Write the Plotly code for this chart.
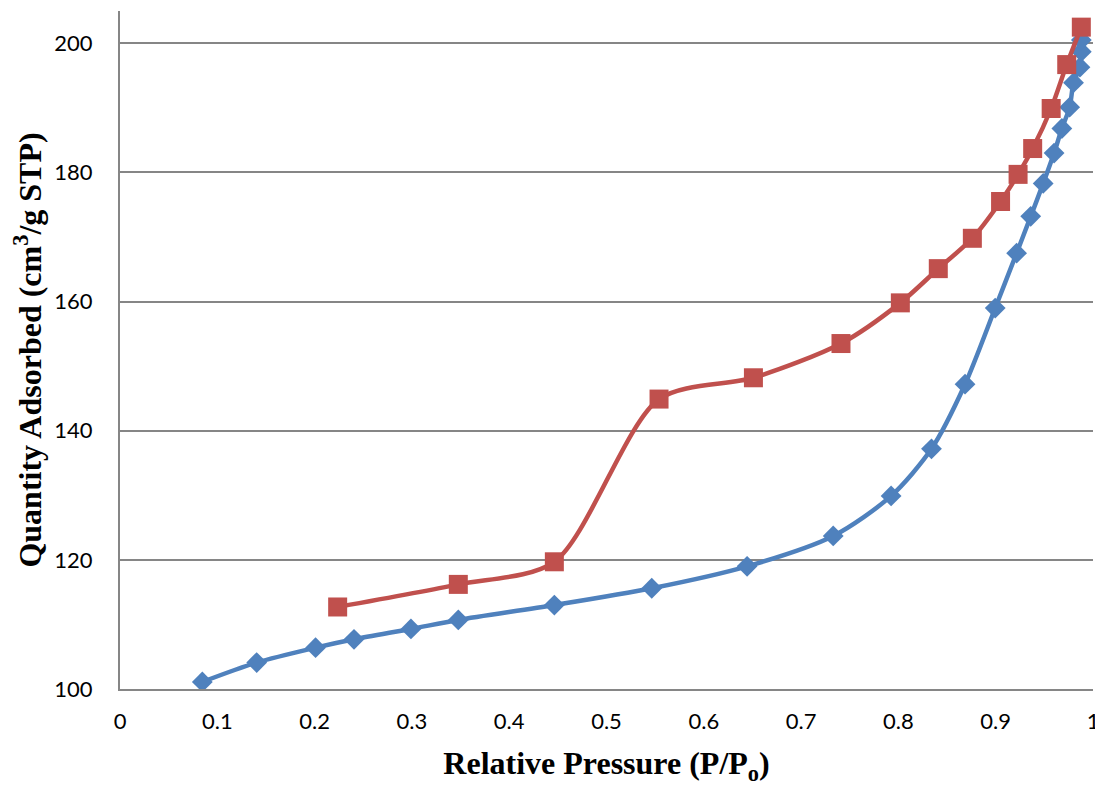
import plotly.graph_objects as go

ads_x = [0.0846, 0.1405, 0.201, 0.2405, 0.299, 0.3477, 0.4464, 0.5465, 0.6445, 0.733,
         0.7925, 0.834, 0.8685, 0.8995, 0.9215, 0.936, 0.9488, 0.960, 0.968, 0.976,
         0.980, 0.9866, 0.988, 0.988]
ads_y = [101.1, 104.1, 106.4, 107.7, 109.3, 110.7, 113.0, 115.6, 119.0, 123.7,
         129.9, 137.2, 147.2, 159.0, 167.5, 173.2, 178.3, 183.0, 186.8, 190.1,
         193.9, 196.3, 198.7, 200.5]

des_x = [0.2237, 0.3477, 0.4464, 0.554, 0.651, 0.741, 0.802, 0.841, 0.876, 0.905,
         0.923, 0.938, 0.957, 0.973, 0.988]
des_y = [112.7, 116.2, 119.7, 144.9, 148.2, 153.5, 159.8, 165.1, 169.8, 175.5,
         179.7, 183.7, 189.9, 196.7, 202.5]

BLUE = "#4F81BD"
RED = "#C0504D"
GRID = "#868686"

fig = go.Figure()
fig.add_trace(go.Scatter(
    x=ads_x, y=ads_y, mode="lines+markers", name="Adsorption",
    line=dict(color=BLUE, width=4.5, shape="spline", smoothing=0.8),
    marker=dict(symbol="diamond", size=16, color=BLUE),
))
fig.add_trace(go.Scatter(
    x=des_x, y=des_y, mode="lines+markers", name="Desorption",
    line=dict(color=RED, width=4.5, shape="spline", smoothing=0.8),
    marker=dict(symbol="square", size=19, color=RED),
))

# page body has an 8px default margin; compensate so the plot area matches
fig.update_layout(
    width=1095, height=778,
    margin=dict(l=112, r=10, t=3, b=97),
    paper_bgcolor="white", plot_bgcolor="white",
    showlegend=False,
    font=dict(family="Lato", size=22, color="black"),
)
fig.update_xaxes(
    range=[0, 1], dtick=0.1, tick0=0, showgrid=False, zeroline=False,
    showline=True, linecolor=GRID, linewidth=2,
    ticks="", ticklabelstandoff=12,
    tickfont=dict(family="Lato", size=22, color="black"),
    title=dict(text="<b>Relative Pressure (P/P<sub>o</sub>)</b>",
               font=dict(family="Liberation Serif", size=32, color="black"),
               standoff=20),
)
fig.update_yaxes(
    range=[100, 205], dtick=20, tick0=100, showgrid=True, gridcolor=GRID, gridwidth=2,
    zeroline=False, showline=True, linecolor=GRID, linewidth=2,
    ticks="", ticklabelstandoff=21,
    tickfont=dict(family="Lato", size=22, color="black"),
    title=dict(text="<b>Quantity Adsorbed (cm<sup>3</sup>/g STP)</b>",
               font=dict(family="Liberation Serif", size=32, color="black"),
               standoff=12),
)

fig.write_html("out.html")
